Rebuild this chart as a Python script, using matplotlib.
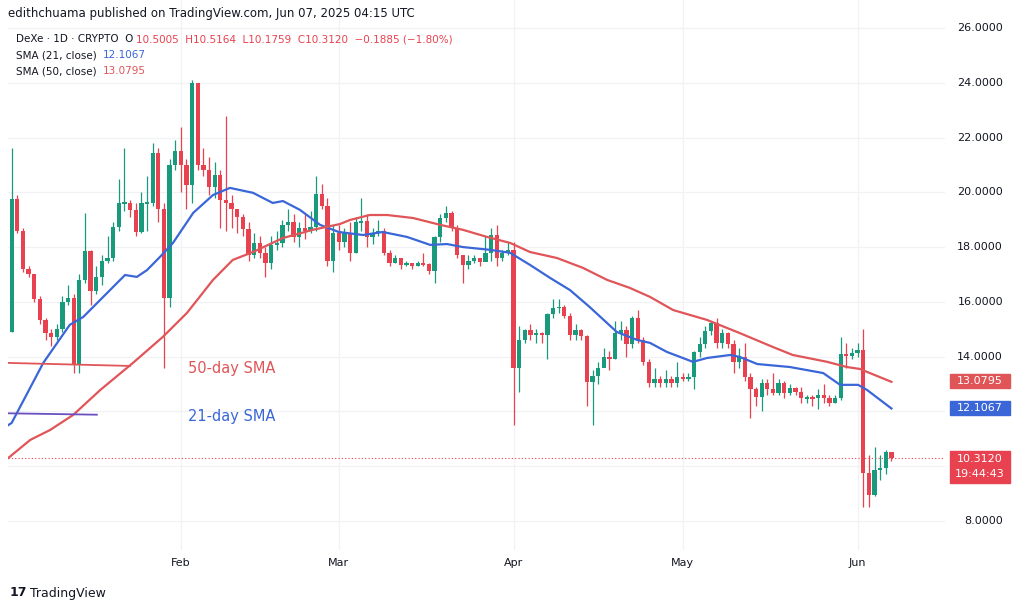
import matplotlib
matplotlib.use("Agg")
import matplotlib.pyplot as plt
import numpy as np

days = np.arange(1, 158)
first_open = 14.9
closes = [19.75,18.6,17.2,17.0,16.1,15.35,14.87,14.72,15.0,16.0,16.15,13.7,16.8,17.86,16.4,16.9,17.5,17.6,18.75,19.6,
19.62,19.35,18.55,19.6,19.62,21.45,19.4,16.15,21.0,21.5,21.0,20.27,24.0,21.0,20.8,20.2,20.63,19.7,19.6,19.4,
19.1,18.67,17.7,18.15,17.8,17.4,18.08,18.15,18.8,18.9,18.37,18.7,18.6,18.75,19.95,19.5,17.5,18.5,18.2,18.5,
17.8,18.9,18.95,18.37,18.5,18.6,17.8,17.4,17.6,17.35,17.4,17.3,17.4,17.38,17.13,18.37,19.05,19.25,18.7,17.7,
17.35,17.5,17.6,17.45,17.8,18.45,17.6,17.8,17.9,13.6,14.6,14.97,14.8,14.83,14.8,15.55,15.78,15.8,15.5,14.8,
14.97,14.77,13.08,13.3,13.6,14.0,13.9,14.87,14.97,14.45,15.4,14.6,13.8,13.05,13.2,13.05,13.2,13.05,13.27,13.2,
13.27,14.18,14.47,14.94,15.23,14.5,14.86,14.47,13.8,14.0,13.27,12.8,12.53,13.05,12.83,12.67,13.05,12.67,12.86,12.72,
12.5,12.5,12.48,12.6,12.5,12.3,12.5,14.1,14.03,14.13,14.24,9.76,8.95,9.86,9.95,10.5005,10.312]
highs = [21.6,19.9,18.7,17.3,17.0,16.2,15.4,15.0,15.2,16.2,16.6,16.3,17.0,19.25,17.9,17.3,17.7,18.4,18.9,20.5,
21.6,19.7,19.6,20.0,20.6,21.8,21.6,19.6,21.2,21.9,22.4,21.2,24.1,24.0,21.6,21.3,21.1,20.8,22.8,19.9,
19.4,19.2,18.9,18.5,18.4,18.0,18.4,18.6,19.0,19.4,19.2,18.9,19.2,19.3,20.6,20.3,19.8,18.8,18.8,18.7,
18.9,19.1,19.8,19.2,18.7,19.0,18.7,17.9,17.7,17.6,17.5,17.4,17.5,17.8,17.4,18.4,19.2,19.5,19.3,18.8,
17.5,17.7,17.7,17.6,18.4,18.7,18.8,17.9,18.2,18.2,15.1,15.0,15.2,15.0,14.9,15.6,16.1,16.1,15.9,15.6,
15.2,15.0,14.8,13.5,13.8,14.3,14.2,15.3,15.3,15.1,15.5,15.7,14.7,13.9,13.6,13.3,13.5,13.3,13.8,13.4,
13.4,14.2,14.7,15.1,15.3,15.4,15.0,14.9,14.6,14.3,14.5,13.4,12.9,13.2,13.2,13.4,13.2,13.1,13.0,12.9,
12.9,12.6,12.6,12.8,13.0,12.6,12.6,14.7,14.5,14.3,14.5,15.0,10.4,10.7,10.4,10.6,10.5164]
lows = [14.9,18.5,17.1,16.9,16.0,15.2,14.6,14.4,14.6,14.9,15.9,13.4,13.4,16.7,15.9,16.3,16.6,17.4,17.5,18.6,
19.3,19.1,18.4,18.5,18.6,19.5,18.9,13.6,15.8,20.8,20.0,19.4,19.6,20.8,20.6,19.9,19.8,18.7,18.6,18.7,
18.5,18.4,17.5,17.6,17.6,16.9,17.2,17.9,18.0,18.6,18.2,18.0,18.3,18.5,18.6,19.4,17.3,17.1,17.9,18.0,
17.5,17.8,18.6,18.0,18.1,18.4,17.7,17.3,17.4,17.2,17.3,17.2,17.3,17.3,17.0,16.7,18.2,18.9,18.6,17.6,
16.7,17.2,17.4,17.3,17.6,17.5,17.3,17.5,17.7,11.5,12.7,14.5,14.6,14.5,14.5,13.9,15.4,15.6,15.4,14.6,
14.6,14.6,12.2,11.5,13.0,13.7,13.5,13.9,14.6,14.0,14.3,14.5,13.7,12.9,12.9,12.9,12.9,12.9,12.9,13.1,
13.1,12.8,14.0,14.3,14.8,14.3,14.3,14.3,13.4,13.6,13.1,11.75,12.2,12.0,12.6,12.6,12.6,12.5,12.6,12.6,
12.3,12.3,12.2,12.1,12.3,12.2,12.3,12.4,13.6,13.9,14.0,8.5,8.5,8.9,9.5,9.7,10.1759]

sma21_days = [0.4,1,6.6,11.3,13.7,16.7,21.1,23.2,25,27.3,29.6,33.2,36.7,39.7,43.8,47.3,49.1,52.1,55.7,59,63.3,66.8,71.1,75.2,78.2,81,85.8,89.4,92.9,96.5,100,103.5,108.3,111.9,114.2,117.2,121.8,124.3,128.4,130.1,133.2,139,144.9,147.9,151.1,152.7,157]
sma21_vals = [11.5,11.58,13.77,15.16,15.45,16.07,16.98,16.91,17.16,17.64,18.15,19.25,19.9,20.16,19.98,19.61,19.68,19.36,18.81,18.55,18.44,18.55,18.37,18.08,18.11,18.0,17.9,17.79,17.35,16.87,16.43,15.81,14.9,14.61,14.5,14.17,13.81,13.95,14.06,13.99,13.73,13.62,13.4,12.97,12.97,12.78,12.1067]
sma50_days = [0.4,4.3,7.8,11.9,16.7,22.5,27.8,32.1,36.7,40.2,43.8,49.1,54.4,59.2,61,64.5,67.6,72.2,77,81,85.3,89.4,92.9,97.7,102.3,106.6,110.6,114.2,118.3,124.3,130.1,136,139.5,145.6,149.1,151.4,152.7,157]
sma50_vals = [10.3,10.96,11.32,11.87,12.78,13.77,14.72,15.6,16.8,17.53,17.82,18.33,18.63,18.84,18.99,19.17,19.17,19.06,18.81,18.63,18.37,18.15,17.82,17.6,17.24,16.8,16.51,16.18,15.7,15.34,14.86,14.35,14.06,13.81,13.62,13.55,13.44,13.0795]

price_ticks = [8,10,12,14,16,18,20,22,24,26]
month_days = [31,59,90,120,151]
month_labels = ["Feb","Mar","Apr","May","Jun"]

GREEN = "#1a9a7d"; RED = "#e8414f"; BLUE = "#3a66d8"; SRED = "#e05558"

opens = [first_open] + closes[:-1]
fig = plt.figure(figsize=(10.24, 6.10), dpi=100)
ax = fig.add_axes([8/1024, 1-550/610, (945-8)/1024, 550/610])
ax.set_xlim(0.35, 166.5)
ax.set_ylim(6.94, 27.02)
for t in price_ticks:
    ax.axhline(t, color="#f0f2f6", lw=0.9, zorder=0)
for d in month_days:
    ax.axvline(d, color="#f0f2f6", lw=0.9, zorder=0)

for d, o, h, l, c in zip(days, opens, highs, lows, closes):
    col = GREEN if c >= o else RED
    ax.vlines(d, l, h, color=col, lw=0.9, zorder=2)
    bot, top = min(o, c), max(o, c)
    if top - bot < 0.06:
        bot, top = (o + c) / 2 - 0.03, (o + c) / 2 + 0.03
    ax.add_patch(plt.Rectangle((d - 0.38, bot), 0.76, top - bot, color=col, zorder=3, lw=0))

ax.plot(sma21_days, sma21_vals, color=BLUE, lw=1.6, zorder=4)
ax.plot(sma50_days, sma50_vals, color=SRED, lw=1.6, zorder=4)
ax.plot([0.4, 22], [13.77, 13.66], color=SRED, lw=1.3, zorder=4)
ax.plot([0.4, 16.1], [11.93, 11.88], color="#6a4fc0", lw=1.3, zorder=4)
ax.text(32.3, 13.55, "50-day SMA", color=SRED, fontsize=10.5, va="center")
ax.text(32.3, 11.8, "21-day SMA", color=BLUE, fontsize=10.5, va="center")
ax.axhline(closes[-1], color=RED, lw=0.8, ls=(0, (1, 2)), zorder=1)

for s in ax.spines.values():
    s.set_visible(False)
ax.set_yticks([]); ax.set_xticks([])

W, H = 1024, 610
def fx(x): return x / W
def fy(y): return 1 - y / H
hidden = [10, 12]
for t in price_ticks:
    if t in hidden:
        continue
    y = 28 + (26 - t) * 27.39
    fig.text(fx(1003), fy(y), f"{t:.4f}", ha="right", va="center", fontsize=8, color="#131722")
for d, lab in zip(month_days, month_labels):
    fig.text(fx(6 + d * 5.64), fy(563), lab, ha="center", va="center", fontsize=8, color="#131722")

def tag(y, txt, col, h=14):
    fig.patches.append(plt.Rectangle((fx(950), fy(y + h / 2)), 60 / W, h / H, transform=fig.transFigure, color=col))
    fig.text(fx(980), fy(y), txt, ha="center", va="center", fontsize=8, color="white")
tag(381, "13.0795", SRED)
tag(408, "12.1067", BLUE)
fig.patches.append(plt.Rectangle((fx(950), fy(483)), 60 / W, 32 / H, transform=fig.transFigure, color=RED))
fig.text(fx(980), fy(459), "10.3120", ha="center", va="center", fontsize=8, color="white")
fig.text(fx(980), fy(474), "19:44:43", ha="center", va="center", fontsize=8, color="white")

fig.text(fx(8), fy(13), "edithchuama published on TradingView.com, Jun 07, 2025 04:15 UTC", fontsize=8.5, va="center", color="#131722")
fig.text(fx(16), fy(39), "DeXe · 1D · CRYPTO  O", fontsize=7.5, va="center", color="#131722")
fig.text(fx(136), fy(39), "10.5005  H10.5164  L10.1759  C10.3120  −0.1885 (−1.80%)", fontsize=7.5, va="center", color=RED)
fig.text(fx(16), fy(55), "SMA (21, close)", fontsize=7.5, va="center", color="#131722")
fig.text(fx(103), fy(55), "12.1067", fontsize=7.5, va="center", color=BLUE)
fig.text(fx(16), fy(71), "SMA (50, close)", fontsize=7.5, va="center", color="#131722")
fig.text(fx(103), fy(71), "13.0795", fontsize=7.5, va="center", color=SRED)
fig.text(fx(30), fy(593), "TradingView", fontsize=9, va="center", color="#131722")
fig.text(fx(10), fy(593), "17", fontsize=9, va="center", color="#131722", weight="bold")
fig.savefig("out.png", dpi=100, facecolor="white")
